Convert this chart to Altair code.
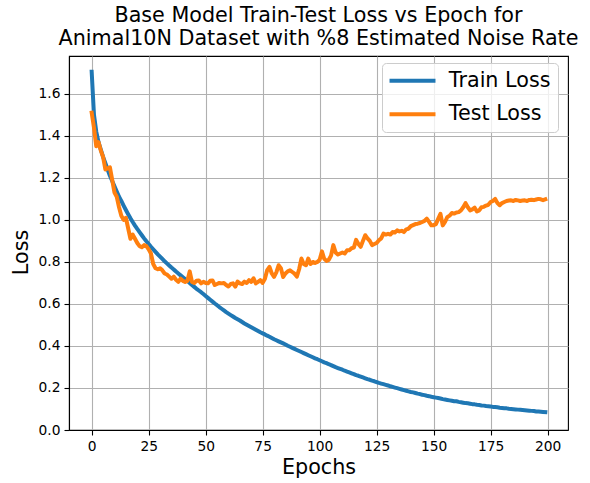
import altair as alt
import pandas as pd

# Per-epoch losses (epochs 0..199)
epochs = list(range(200))

train_loss = [
    1.705, 1.500, 1.420, 1.370, 1.335, 1.300, 1.270, 1.240, 1.210, 1.185,
    1.160, 1.135, 1.110, 1.090, 1.068, 1.047, 1.027, 1.008, 0.990, 0.973,
    0.957, 0.942, 0.927, 0.912, 0.898, 0.885, 0.872, 0.860, 0.848, 0.836,
    0.825, 0.814, 0.803, 0.793, 0.783, 0.773, 0.764, 0.754, 0.745, 0.736,
    0.727, 0.718, 0.709, 0.700, 0.690, 0.681, 0.672, 0.664, 0.656, 0.647,
    0.638, 0.629, 0.620, 0.611, 0.602, 0.594, 0.585, 0.577, 0.569, 0.561,
    0.554, 0.547, 0.540, 0.533, 0.527, 0.521, 0.514, 0.507, 0.501, 0.495,
    0.489, 0.483, 0.477, 0.471, 0.465, 0.460, 0.455, 0.449, 0.444, 0.438,
    0.432, 0.427, 0.422, 0.417, 0.412, 0.407, 0.401, 0.396, 0.391, 0.386,
    0.381, 0.376, 0.371, 0.366, 0.361, 0.356, 0.351, 0.346, 0.341, 0.337,
    0.332, 0.327, 0.322, 0.318, 0.313, 0.309, 0.304, 0.299, 0.295, 0.291,
    0.287, 0.282, 0.278, 0.274, 0.270, 0.266, 0.261, 0.258, 0.254, 0.250,
    0.246, 0.242, 0.239, 0.235, 0.232, 0.228, 0.224, 0.221, 0.218, 0.215,
    0.212, 0.208, 0.205, 0.202, 0.199, 0.196, 0.193, 0.190, 0.187, 0.184,
    0.181, 0.179, 0.176, 0.173, 0.171, 0.168, 0.166, 0.163, 0.161, 0.158,
    0.156, 0.154, 0.152, 0.150, 0.147, 0.145, 0.143, 0.141, 0.139, 0.137,
    0.137, 0.134, 0.132, 0.130, 0.128, 0.127, 0.125, 0.123, 0.122, 0.120,
    0.119, 0.117, 0.116, 0.114, 0.113, 0.112, 0.110, 0.109, 0.108, 0.106,
    0.105, 0.104, 0.103, 0.101, 0.100, 0.099, 0.098, 0.097, 0.096, 0.095,
    0.094, 0.093, 0.092, 0.091, 0.090, 0.088, 0.088, 0.087, 0.086, 0.085,
]

test_loss = [
    1.510, 1.440, 1.350, 1.370, 1.330, 1.300, 1.240, 1.245, 1.250, 1.190,
    1.130, 1.110, 1.060, 1.020, 1.000, 1.010, 0.960, 0.910, 0.930, 0.910,
    0.890, 0.875, 0.870, 0.880, 0.875, 0.860, 0.840, 0.790, 0.770, 0.765,
    0.770, 0.760, 0.745, 0.740, 0.730, 0.720, 0.730, 0.715, 0.705, 0.720,
    0.710, 0.705, 0.710, 0.755, 0.705, 0.700, 0.710, 0.712, 0.698, 0.705,
    0.700, 0.698, 0.710, 0.712, 0.690, 0.695, 0.700, 0.698, 0.700, 0.690,
    0.683, 0.695, 0.698, 0.682, 0.706, 0.698, 0.695, 0.706, 0.700, 0.713,
    0.705, 0.722, 0.698, 0.705, 0.713, 0.700, 0.720, 0.761, 0.776, 0.745,
    0.729, 0.750, 0.784, 0.770, 0.728, 0.745, 0.755, 0.760, 0.752, 0.744,
    0.730, 0.765, 0.816, 0.790, 0.784, 0.816, 0.790, 0.800, 0.795, 0.800,
    0.810, 0.850, 0.815, 0.805, 0.810, 0.830, 0.880, 0.845, 0.835, 0.840,
    0.845, 0.840, 0.855, 0.855, 0.865, 0.868, 0.905, 0.885, 0.872, 0.900,
    0.927, 0.912, 0.900, 0.880, 0.885, 0.890, 0.903, 0.912, 0.935, 0.930,
    0.934, 0.930, 0.942, 0.940, 0.950, 0.945, 0.948, 0.942, 0.955, 0.958,
    0.970, 0.975, 0.980, 0.982, 0.985, 0.990, 0.995, 1.006, 0.990, 0.974,
    0.975, 0.980, 1.005, 1.029, 0.974, 0.990, 1.013, 1.020, 1.033, 1.030,
    1.035, 1.037, 1.045, 1.060, 1.080, 1.060, 1.045, 1.050, 1.058, 1.040,
    1.045, 1.060, 1.062, 1.068, 1.072, 1.085, 1.090, 1.100, 1.080, 1.070,
    1.080, 1.085, 1.090, 1.092, 1.093, 1.090, 1.095, 1.093, 1.090, 1.092,
    1.093, 1.090, 1.095, 1.096, 1.094, 1.097, 1.100, 1.098, 1.094, 1.098,
]

series_names = ["Train Loss", "Test Loss"]
series_colors = ["#1f77b4", "#ff7f0e"]
x_ticks = [0, 25, 50, 75, 100, 125, 150, 175, 200]
y_ticks = [0.0, 0.2, 0.4, 0.6, 0.8, 1.0, 1.2, 1.4, 1.6]

df = pd.DataFrame({
    "Epoch": epochs + epochs,
    "Loss": train_loss + test_loss,
    "Series": [series_names[0]] * len(epochs) + [series_names[1]] * len(epochs),
})

FONT = "DejaVu Sans"

chart = (
    alt.Chart(
        df,
        title=alt.Title(
            ["Base Model Train-Test Loss vs Epoch for",
             "Animal10N Dataset with %8 Estimated Noise Rate"],
            fontSize=20.7, font=FONT, fontWeight="normal", color="black",
            anchor="middle", lineHeight=23, offset=6,
        ),
    )
    .mark_line(strokeWidth=4, strokeJoin="round", strokeCap="square")
    .encode(
        x=alt.X(
            "Epoch:Q",
            scale=alt.Scale(domain=[-9.95, 208.95], nice=False, zero=False),
            axis=alt.Axis(values=x_ticks, title="Epochs", format="d"),
        ),
        y=alt.Y(
            "Loss:Q",
            scale=alt.Scale(domain=[0, 1.78], nice=False),
            axis=alt.Axis(values=y_ticks, title="Loss", format=".1f", titleY=196),
        ),
        color=alt.Color(
            "Series:N",
            scale=alt.Scale(domain=series_names, range=series_colors),
            sort=series_names,
            legend=alt.Legend(
                title=None,
                orient="none",
                legendX=313,
                legendY=7,
                symbolType="M-4,0H4",
                symbolSize=132,
                symbolStrokeWidth=4,
                symbolOffset=12.65,
                labelOffset=26,
                labelFont=FONT,
                labelFontSize=20.7,
                labelColor="black",
                rowPadding=11.3,
                padding=7.5,
                strokeColor="#cccccc",
                fillColor="rgba(255,255,255,0.8)",
                cornerRadius=4,
            ),
        ),
        order=alt.Order("Epoch:Q"),
    )
    .properties(
        width=499,
        height=374,
        autosize=alt.AutoSizeParams(type="none"),
        padding={"left": 69, "top": 56, "right": 22, "bottom": 53},
    )
    .configure(background="white")
    .configure_view(stroke="black", strokeWidth=1.1)
    .configure_axis(
        grid=True,
        gridColor="#b0b0b0",
        gridWidth=1.1,
        domainColor="black",
        domainWidth=1.1,
        tickColor="black",
        tickWidth=1.1,
        tickSize=5,
        labelFont=FONT,
        labelFontSize=13.8,
        labelColor="black",
        labelPadding=4,
        titleFont=FONT,
        titleFontSize=20.7,
        titleFontWeight="normal",
        titleColor="black",
    )
    .configure_axisX(titlePadding=5)
    .configure_axisY(titlePadding=7)
)

chart.save("out.html", embed_options={"renderer": "svg", "actions": False})
